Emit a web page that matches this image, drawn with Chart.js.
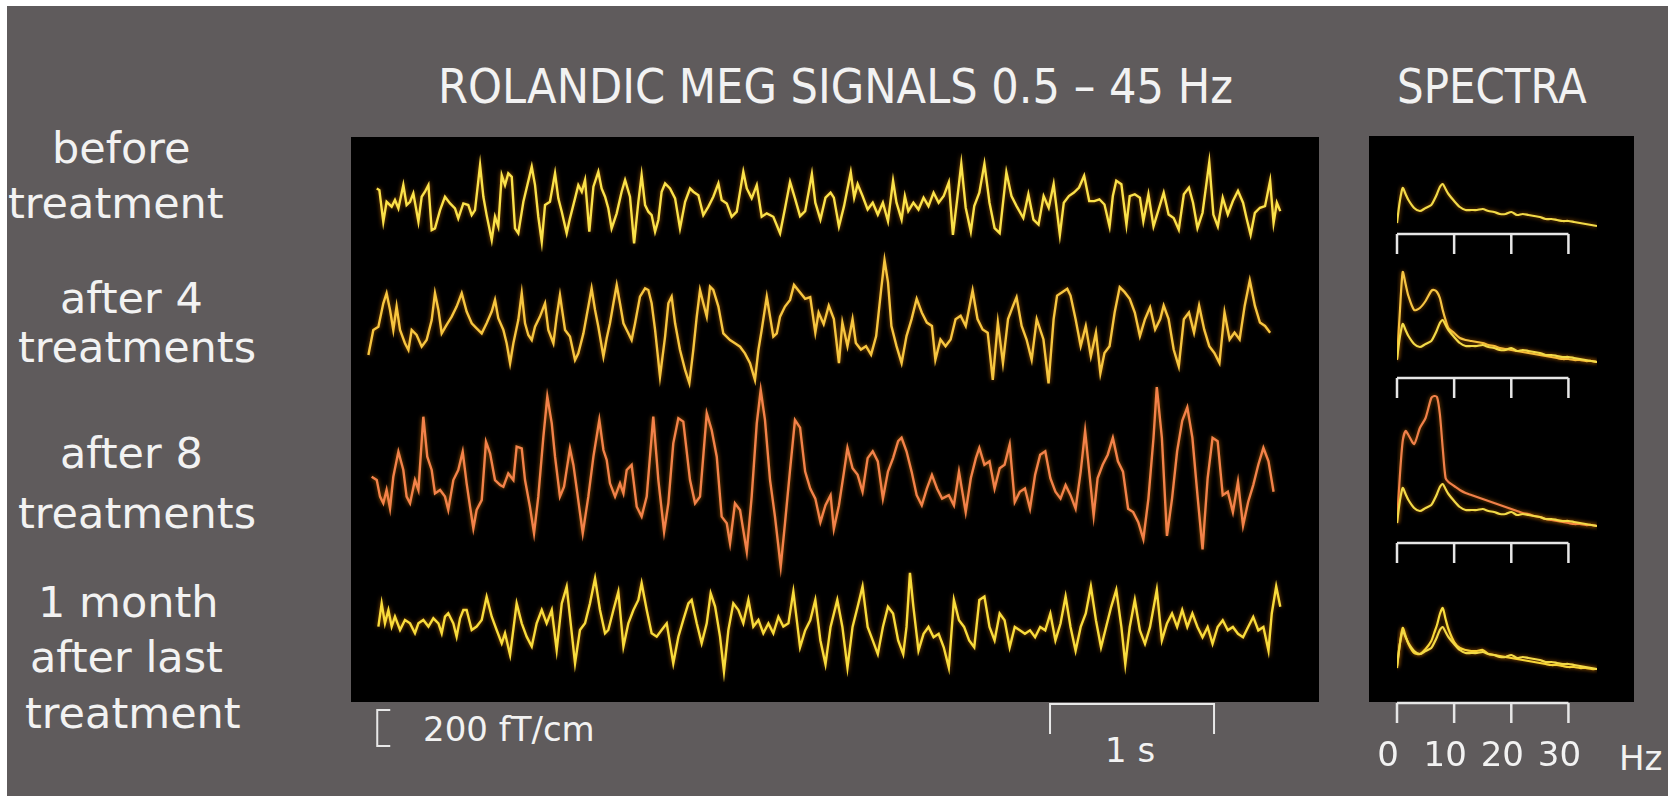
<!DOCTYPE html>
<html>
<head>
<meta charset="utf-8">
<script src="https://cdn.jsdelivr.net/npm/chart.js@4.4.1/dist/chart.umd.min.js"></script>
<style>
  html, body { margin: 0; padding: 0; background: #fff; }
  body { width: 1668px; height: 796px; position: relative; overflow: hidden;
         font-family: "DejaVu Sans", sans-serif; color: #f2f2f2; }
  #bg { position: absolute; left: 7px; top: 6px; right: 0; bottom: 0; background: #5f5b5c; }
  .panel { position: absolute; background: #000; }
  .txt { position: absolute; white-space: nowrap; line-height: 1; }
  canvas { position: absolute; }
</style>
</head>
<body>
<div id="bg"></div>
<div class="panel" style="left:351px;top:137px;width:968px;height:565px"></div>
<div class="panel" style="left:1369px;top:136px;width:265px;height:566px"></div>

<div class="txt" style="left:438px;top:62px;font-size:48px;transform:scaleX(0.9);transform-origin:0 0">ROLANDIC MEG SIGNALS 0.5 – 45 Hz</div>
<div class="txt" style="left:1397px;top:62px;font-size:48px;transform:scaleX(0.875);transform-origin:0 0">SPECTRA</div>

<div class="txt" style="left:52px;top:127px;font-size:43px">before</div>
<div class="txt" style="left:8px;top:182px;font-size:43px">treatment</div>
<div class="txt" style="left:60px;top:277px;font-size:43px">after 4</div>
<div class="txt" style="left:18px;top:326px;font-size:43px">treatments</div>
<div class="txt" style="left:60px;top:432px;font-size:43px">after 8</div>
<div class="txt" style="left:18px;top:492px;font-size:43px">treatments</div>
<div class="txt" style="left:38px;top:581px;font-size:43px">1 month</div>
<div class="txt" style="left:30px;top:636px;font-size:43px">after last</div>
<div class="txt" style="left:25px;top:692px;font-size:43px">treatment</div>

<div class="txt" style="left:423px;top:712px;font-size:34px">200 fT/cm</div>
<div class="txt" style="left:1105px;top:733px;font-size:34px">1 s</div>
<div class="txt" style="left:1619px;top:741px;font-size:34px">Hz</div>

<canvas id="sig" width="968" height="659" style="left:351px;top:137px"></canvas>
<canvas id="spec" width="299" height="660" style="left:1369px;top:136px"></canvas>

<script>
// MEG traces: [time s, field fT/cm]
const beforeTrace = [
  [0.157,81],[0.173,72],[0.197,-104],[0.217,7],[0.248,-20],[0.268,17],[0.289,-30],[0.319,100],[0.339,-11],[0.360,7],
  [0.380,54],[0.411,-104],[0.431,35],[0.451,63],[0.472,100],[0.492,-150],[0.512,-141],[0.543,-39],[0.573,35],[0.604,-2],
  [0.634,-30],[0.654,-85],[0.685,-2],[0.715,-11],[0.736,-67],[0.756,-39],[0.787,211],[0.807,35],[0.827,-67],[0.858,-205],
  [0.878,-76],[0.898,-131],[0.919,155],[0.939,100],[0.959,165],[0.980,146],[1.000,-141],[1.020,-168],[1.051,7],[1.102,202],
  [1.122,100],[1.142,-76],[1.163,-215],[1.183,-11],[1.213,7],[1.244,165],[1.264,26],[1.285,-48],[1.315,-168],[1.335,-85],
  [1.366,26],[1.386,100],[1.407,63],[1.427,128],[1.453,-159],[1.478,91],[1.508,174],[1.528,81],[1.549,35],[1.569,-30],
  [1.589,-141],[1.620,-57],[1.650,63],[1.671,128],[1.701,35],[1.726,-224],[1.752,7],[1.772,155],[1.793,-11],[1.813,-48],
  [1.833,-67],[1.854,-159],[1.874,-94],[1.894,63],[1.915,109],[1.945,81],[1.976,26],[2.006,-141],[2.037,7],[2.067,81],
  [2.087,63],[2.118,44],[2.148,-67],[2.179,-20],[2.209,35],[2.240,109],[2.260,17],[2.291,-2],[2.321,-76],[2.352,-48],
  [2.392,174],[2.413,81],[2.443,26],[2.474,100],[2.504,-76],[2.535,-57],[2.575,-76],[2.616,-168],[2.646,-30],[2.677,118],
  [2.707,26],[2.738,-73],[2.769,-45],[2.810,161],[2.831,2],[2.862,-92],[2.893,30],[2.924,58],[2.944,30],[2.975,-130],
  [3.006,-17],[3.047,171],[3.068,30],[3.089,105],[3.119,39],[3.150,-36],[3.181,2],[3.212,-64],[3.243,2],[3.274,-101],
  [3.305,124],[3.326,2],[3.357,-92],[3.377,39],[3.398,-45],[3.429,2],[3.460,-36],[3.491,30],[3.521,-17],[3.552,58],
  [3.583,2],[3.614,39],[3.645,115],[3.670,-177],[3.697,30],[3.721,218],[3.748,-26],[3.779,-158],[3.800,-17],[3.831,58],
  [3.862,218],[3.893,2],[3.924,-139],[3.955,-167],[3.996,171],[4.027,39],[4.058,-17],[4.099,-83],[4.130,49],[4.161,-92],
  [4.192,-120],[4.223,39],[4.254,-26],[4.284,105],[4.322,-177],[4.346,2],[4.377,39],[4.408,58],[4.439,86],[4.470,152],
  [4.501,11],[4.532,11],[4.563,21],[4.594,-8],[4.625,-130],[4.645,39],[4.666,124],[4.697,105],[4.728,-120],[4.748,39],
  [4.779,49],[4.810,30],[4.831,-101],[4.862,49],[4.893,-130],[4.924,-36],[4.955,58],[4.985,-64],[5.016,-83],[5.047,-148],
  [5.078,49],[5.109,86],[5.134,2],[5.161,-139],[5.192,-54],[5.233,227],[5.258,-64],[5.285,-130],[5.315,30],[5.346,-64],
  [5.377,11],[5.408,68],[5.439,2],[5.460,-83],[5.485,-177],[5.511,-54],[5.542,-26],[5.573,-17],[5.604,124],[5.625,-111],
  [5.645,2],[5.666,-45]
];

const after4Trace = [
  [0.106,-150],[0.136,-11],[0.167,7],[0.197,137],[0.217,193],[0.238,100],[0.258,-11],[0.278,119],[0.299,-11],[0.329,-85],
  [0.350,-122],[0.370,-11],[0.400,-39],[0.431,-104],[0.461,-67],[0.492,44],[0.512,193],[0.533,100],[0.553,-30],[0.583,17],
  [0.614,63],[0.644,119],[0.675,193],[0.705,91],[0.736,26],[0.766,-2],[0.797,-30],[0.827,26],[0.858,91],[0.878,156],
  [0.898,54],[0.929,-11],[0.949,-85],[0.970,-196],[0.990,-85],[1.020,44],[1.041,193],[1.061,26],[1.081,-39],[1.102,-67],
  [1.122,7],[1.152,63],[1.183,137],[1.203,-11],[1.234,-85],[1.254,63],[1.274,183],[1.305,-11],[1.335,-48],[1.366,-178],
  [1.386,-141],[1.417,-30],[1.447,119],[1.467,220],[1.488,100],[1.508,7],[1.539,-159],[1.559,-57],[1.579,26],[1.600,137],
  [1.620,239],[1.640,137],[1.661,26],[1.681,-11],[1.711,-67],[1.732,26],[1.762,174],[1.793,220],[1.813,211],[1.833,137],
  [1.854,-11],[1.884,-270],[1.915,-48],[1.935,137],[1.955,174],[1.976,26],[2.006,-122],[2.037,-233],[2.063,-307],[2.087,-122],
  [2.108,63],[2.128,211],[2.148,137],[2.169,63],[2.189,230],[2.209,211],[2.240,119],[2.270,-30],[2.311,-67],[2.341,-85],
  [2.372,-104],[2.402,-141],[2.433,-196],[2.463,-289],[2.484,-122],[2.504,-11],[2.535,174],[2.555,63],[2.575,-48],[2.596,-30],
  [2.616,63],[2.646,119],[2.677,156],[2.701,239],[2.769,162],[2.800,171],[2.831,-26],[2.851,86],[2.882,21],[2.913,124],
  [2.944,49],[2.975,-195],[2.996,30],[3.027,-101],[3.058,49],[3.078,-83],[3.109,-120],[3.140,-101],[3.171,-148],[3.202,-45],
  [3.233,218],[3.253,377],[3.274,255],[3.295,11],[3.326,-101],[3.357,-195],[3.387,-45],[3.418,49],[3.449,162],[3.480,86],
  [3.511,30],[3.542,11],[3.563,-177],[3.594,-64],[3.625,-101],[3.656,-64],[3.686,49],[3.717,68],[3.748,11],[3.790,208],
  [3.820,49],[3.851,-8],[3.882,-26],[3.913,-289],[3.944,30],[3.975,-195],[4.006,49],[4.037,124],[4.058,171],[4.089,11],
  [4.119,-64],[4.150,-177],[4.181,49],[4.222,-64],[4.253,-308],[4.284,49],[4.305,180],[4.336,199],[4.367,218],[4.387,180],
  [4.418,49],[4.449,-101],[4.480,11],[4.511,-158],[4.542,-26],[4.569,-252],[4.594,-139],[4.625,-101],[4.656,86],[4.687,227],
  [4.717,199],[4.748,162],[4.779,86],[4.810,-45],[4.841,49],[4.872,115],[4.903,-8],[4.934,49],[4.955,124],[4.985,49],
  [5.016,-120],[5.047,-214],[5.078,49],[5.109,86],[5.140,-26],[5.171,124],[5.202,-8],[5.233,-101],[5.264,-139],[5.295,-195],
  [5.326,86],[5.357,-64],[5.387,-26],[5.418,-64],[5.449,124],[5.480,265],[5.511,124],[5.542,30],[5.573,11],[5.604,-26]
];

const after8Trace = [
  [0.126,13],[0.157,-6],[0.177,-98],[0.197,-135],[0.217,-61],[0.238,-163],[0.258,13],[0.289,152],[0.319,50],[0.339,-98],
  [0.360,-135],[0.390,-6],[0.411,-61],[0.441,346],[0.465,124],[0.492,50],[0.512,-80],[0.543,-61],[0.573,-98],[0.593,-172],
  [0.624,-6],[0.654,50],[0.681,152],[0.705,-24],[0.726,-154],[0.746,-274],[0.766,-172],[0.797,-117],[0.823,207],[0.848,143],
  [0.878,-6],[0.909,-33],[0.929,-43],[0.959,31],[0.990,-6],[1.010,180],[1.041,170],[1.061,-6],[1.091,-154],[1.116,-302],
  [1.142,-98],[1.173,235],[1.197,457],[1.224,309],[1.244,124],[1.274,-98],[1.299,-43],[1.335,170],[1.356,78],[1.380,-80],
  [1.413,-302],[1.447,-98],[1.478,124],[1.514,328],[1.539,161],[1.559,106],[1.579,-24],[1.610,-98],[1.640,-24],[1.661,-80],
  [1.681,50],[1.711,78],[1.742,-154],[1.772,-209],[1.803,-98],[1.843,346],[1.874,-6],[1.909,-293],[1.935,-135],[1.965,198],
  [1.996,337],[2.026,319],[2.067,-6],[2.098,-135],[2.128,-98],[2.169,365],[2.199,272],[2.230,124],[2.260,-209],[2.291,-246],
  [2.311,-357],[2.341,-135],[2.372,-172],[2.413,-404],[2.443,-98],[2.474,309],[2.498,494],[2.524,328],[2.555,-6],[2.585,-209],
  [2.620,-487],[2.646,-246],[2.677,50],[2.707,328],[2.738,285],[2.769,41],[2.800,-53],[2.831,-109],[2.862,-240],[2.893,-146],
  [2.924,-90],[2.944,-278],[2.975,-146],[3.006,41],[3.027,173],[3.058,60],[3.089,23],[3.119,-71],[3.150,116],[3.181,154],
  [3.212,98],[3.243,-109],[3.274,41],[3.305,116],[3.336,210],[3.357,229],[3.387,154],[3.418,41],[3.449,-90],[3.480,-146],
  [3.511,-53],[3.542,23],[3.573,-53],[3.604,-109],[3.645,-90],[3.676,-146],[3.707,41],[3.748,-184],[3.779,4],[3.810,116],
  [3.831,173],[3.862,79],[3.893,98],[3.924,-53],[3.955,60],[3.985,79],[4.016,192],[4.047,-128],[4.078,-71],[4.109,-53],
  [4.140,-165],[4.171,23],[4.202,135],[4.233,154],[4.264,4],[4.295,-71],[4.326,-109],[4.357,-34],[4.387,-90],[4.418,-165],
  [4.449,41],[4.476,267],[4.501,41],[4.528,-203],[4.552,4],[4.583,79],[4.614,135],[4.645,229],[4.676,98],[4.707,41],
  [4.738,-165],[4.769,-184],[4.800,-240],[4.831,-334],[4.862,-109],[4.893,229],[4.913,511],[4.944,229],[4.975,-316],[5.006,-109],
  [5.037,154],[5.068,323],[5.099,398],[5.130,229],[5.161,-90],[5.192,-391],[5.223,4],[5.253,229],[5.284,210],[5.315,-90],
  [5.346,-71],[5.377,-184],[5.408,-15],[5.439,-259],[5.470,-128],[5.501,-34],[5.532,79],[5.563,173],[5.594,98],[5.625,-71]
];

const monthTrace = [
  [0.167,-9],[0.187,120],[0.207,9],[0.228,83],[0.248,-9],[0.268,46],[0.299,-28],[0.329,28],[0.360,9],[0.390,-46],
  [0.411,9],[0.441,28],[0.472,-9],[0.502,37],[0.533,9],[0.553,-46],[0.573,46],[0.593,65],[0.624,9],[0.644,-65],
  [0.665,37],[0.685,83],[0.705,83],[0.736,-28],[0.766,-9],[0.797,28],[0.827,157],[0.858,46],[0.888,-28],[0.919,-102],
  [0.939,-46],[0.970,-167],[1.010,120],[1.041,9],[1.071,-65],[1.102,-120],[1.132,9],[1.163,83],[1.193,9],[1.224,83],
  [1.254,-139],[1.285,120],[1.315,213],[1.335,46],[1.366,-213],[1.396,-28],[1.427,9],[1.457,120],[1.488,259],[1.518,83],
  [1.549,-46],[1.569,-28],[1.600,83],[1.630,185],[1.661,-120],[1.691,9],[1.722,83],[1.752,139],[1.772,232],[1.803,83],
  [1.833,-46],[1.864,-65],[1.894,-28],[1.925,9],[1.965,-213],[1.996,-65],[2.026,28],[2.057,120],[2.077,139],[2.108,9],
  [2.138,-102],[2.169,9],[2.193,176],[2.220,102],[2.250,-65],[2.274,-259],[2.301,-28],[2.331,120],[2.362,83],[2.392,9],
  [2.423,139],[2.453,-9],[2.484,28],[2.514,-46],[2.545,9],[2.575,-46],[2.606,46],[2.636,-9],[2.667,9],[2.697,185],
  [2.738,-124],[2.769,-30],[2.800,26],[2.831,139],[2.862,-86],[2.893,-218],[2.924,-11],[2.965,139],[2.996,-11],[3.027,-237],
  [3.058,-11],[3.089,101],[3.119,214],[3.150,-11],[3.181,-86],[3.212,-162],[3.243,-11],[3.274,101],[3.305,64],[3.336,-86],
  [3.367,-162],[3.387,-11],[3.408,289],[3.429,101],[3.460,-143],[3.491,-49],[3.521,-11],[3.552,-68],[3.583,-49],[3.614,-124],
  [3.645,-237],[3.676,139],[3.707,26],[3.738,-11],[3.769,-86],[3.800,-124],[3.831,139],[3.862,158],[3.893,-11],[3.924,-86],
  [3.955,64],[3.985,26],[4.016,-124],[4.047,-11],[4.078,-30],[4.109,-49],[4.140,-30],[4.171,-68],[4.202,-11],[4.233,-30],
  [4.264,64],[4.295,-86],[4.326,8],[4.357,158],[4.387,-11],[4.418,-143],[4.449,-11],[4.480,64],[4.511,214],[4.542,26],
  [4.573,-124],[4.604,-11],[4.635,101],[4.666,195],[4.697,-11],[4.721,-218],[4.748,-11],[4.779,139],[4.810,-30],[4.841,-105],
  [4.872,-11],[4.913,195],[4.944,-86],[4.975,8],[5.006,64],[5.037,-11],[5.068,83],[5.099,-11],[5.130,64],[5.161,-11],
  [5.192,-68],[5.223,-11],[5.253,-105],[5.284,-11],[5.315,26],[5.346,-30],[5.377,-11],[5.408,-49],[5.439,-68],[5.470,-11],
  [5.501,45],[5.532,-30],[5.563,-11],[5.594,-143],[5.614,64],[5.641,214],[5.666,101]
];

// amplitude spectra (a.u.) at these frequencies
const specFreq   = [0,0.5,1,1.5,2,3,4,5,6,6.5,7,7.5,8,8.5,9,10,11,12,13,14,15,16,17,18,19,20,21,22,23,24,25,26,27,28,29,30,31,32,33,34,35];
const specBefore = [3,25,38,32,26,18,15,18,21,26,32,39,42,37,32,25,19,16,16,16,17,15,14,12,12,14,11,12,11,10,9,7,7,6,5,5,4,3,2,1,0];
const specAfter4 = [2,50,90,78,66,52,54,61,71,72,70,64,52,42,34,29,24,22,21,20,19,17,16,14,13,12,11,10,9,8,7,6,5,4,3,3,2,2,1,1,0];
const specAfter8 = [3,50,85,95,91,82,98,108,128,130,129,112,78,48,44,40,36,33,31,29,27,25,23,21,19,17,15,13,12,10,9,7,6,5,4,3,2,2,1,1,0];
const specMonth  = [1,25,41,33,25,16,15,20,28,36,44,55,61,50,40,27,21,19,18,18,19,15,14,13,12,11,10,9,8,7,6,5,4,4,3,2,2,1,1,0,0];
const freqTicks  = [0, 10, 20, 30];

// layout: baseline of each row in fT/cm, colours
const traces = [beforeTrace, after4Trace, after8Trace, monthTrace];
const traceOffsets = [2772, 2078, 1239, 428];
const traceColors = ['#fbe24a', '#f7c640', '#f3824a', '#f9dc3c'];

const yellow = '#f2da48';
const specGroups = [
  { axis: 469, lift: 8,  curves: [[specBefore, yellow]] },
  { axis: 325, lift: 16, curves: [[specBefore, yellow], [specAfter4, '#f5c443']] },
  { axis: 160, lift: 17, curves: [[specBefore, yellow], [specAfter8, '#f0804a']] },
  { axis: 0,   lift: 34, curves: [[specBefore, yellow], [specMonth, '#f7de3e']] }
];

const glow = {
  id: 'glow',
  beforeDatasetsDraw(chart) {
    const c = chart.ctx;
    c.save();
    c.shadowColor = 'rgba(255,140,0,0.6)';
    c.shadowBlur = 4;
  },
  afterDatasetsDraw(chart) { chart.ctx.restore(); }
};

// 200 fT/cm and 1 s calibration bars
const scaleBars = {
  id: 'scaleBars',
  afterDraw(chart) {
    const { ctx, chartArea, scales: { x, y } } = chart;
    ctx.save();
    ctx.strokeStyle = '#e8e8e8';
    ctx.lineWidth = 2;
    const bx = x.getPixelForValue(0.16);
    const bh = y.getPixelForValue(0) - y.getPixelForValue(200);
    const by = chartArea.bottom + 8;
    ctx.beginPath();
    ctx.moveTo(bx + 13, by); ctx.lineTo(bx, by); ctx.lineTo(bx, by + bh); ctx.lineTo(bx + 13, by + bh);
    ctx.stroke();
    const x1 = x.getPixelForValue(4.262), x2 = x.getPixelForValue(5.262);
    const ty = chartArea.bottom + 2;
    ctx.beginPath();
    ctx.moveTo(x1, ty + 30); ctx.lineTo(x1, ty); ctx.lineTo(x2, ty); ctx.lineTo(x2, ty + 30);
    ctx.stroke();
    ctx.restore();
  }
};

// frequency brackets under each spectrum
const brackets = {
  id: 'brackets',
  afterDraw(chart) {
    const { ctx, scales: { x, y } } = chart;
    ctx.save();
    ctx.strokeStyle = '#e6e6e6';
    ctx.lineWidth = 2.5;
    specGroups.forEach(g => {
      const py = y.getPixelForValue(g.axis);
      ctx.beginPath();
      ctx.moveTo(x.getPixelForValue(0), py);
      ctx.lineTo(x.getPixelForValue(30), py);
      freqTicks.forEach(f => {
        const px = x.getPixelForValue(f);
        ctx.moveTo(px, py);
        ctx.lineTo(px, py + 20);
      });
      ctx.stroke();
    });
    ctx.restore();
  }
};

new Chart(document.getElementById('sig'), {
  type: 'line',
  data: {
    datasets: traces.map((tr, i) => ({
      data: tr.map(([t, v]) => ({ x: t, y: v + traceOffsets[i] })),
      borderColor: traceColors[i],
      borderWidth: 2.4,
      pointRadius: 0,
      tension: 0,
      fill: false
    }))
  },
  options: {
    responsive: false,
    animation: false,
    layout: { padding: { left: 0, right: 0, top: 0, bottom: 94 } },
    scales: {
      x: { type: 'linear', min: 0, max: 5.902, display: false },
      y: { min: 0, max: 3139, display: false }
    },
    plugins: { legend: { display: false }, tooltip: { enabled: false } }
  },
  plugins: [glow, scaleBars]
});

const specSets = [];
specGroups.forEach(g => {
  g.curves.forEach(([vals, color]) => {
    specSets.push({
      data: specFreq.map((f, i) => ({ x: f, y: g.axis + g.lift + vals[i] })),
      borderColor: color,
      borderWidth: 2.2,
      pointRadius: 0,
      tension: 0.25,
      fill: false
    });
  });
});

new Chart(document.getElementById('spec'), {
  type: 'line',
  data: { datasets: specSets },
  options: {
    responsive: false,
    animation: false,
    layout: { padding: { left: 28, right: 71, top: 0, bottom: 0 } },
    scales: {
      x: {
        type: 'linear', min: 0, max: 35,
        afterBuildTicks: s => { s.ticks = freqTicks.map(v => ({ value: v })); },
        afterFit: s => { s.height = 93; },
        grid: { display: false, drawTicks: true, tickLength: 34 },
        border: { display: false },
        ticks: { color: '#f2f2f2', font: { family: 'DejaVu Sans', size: 34 }, padding: 0,
                 labelOffset: -9, maxRotation: 0, autoSkip: false }
      },
      y: { min: 0, max: 567, display: false }
    },
    plugins: { legend: { display: false }, tooltip: { enabled: false } }
  },
  plugins: [glow, brackets]
});
</script>
</body>
</html>
